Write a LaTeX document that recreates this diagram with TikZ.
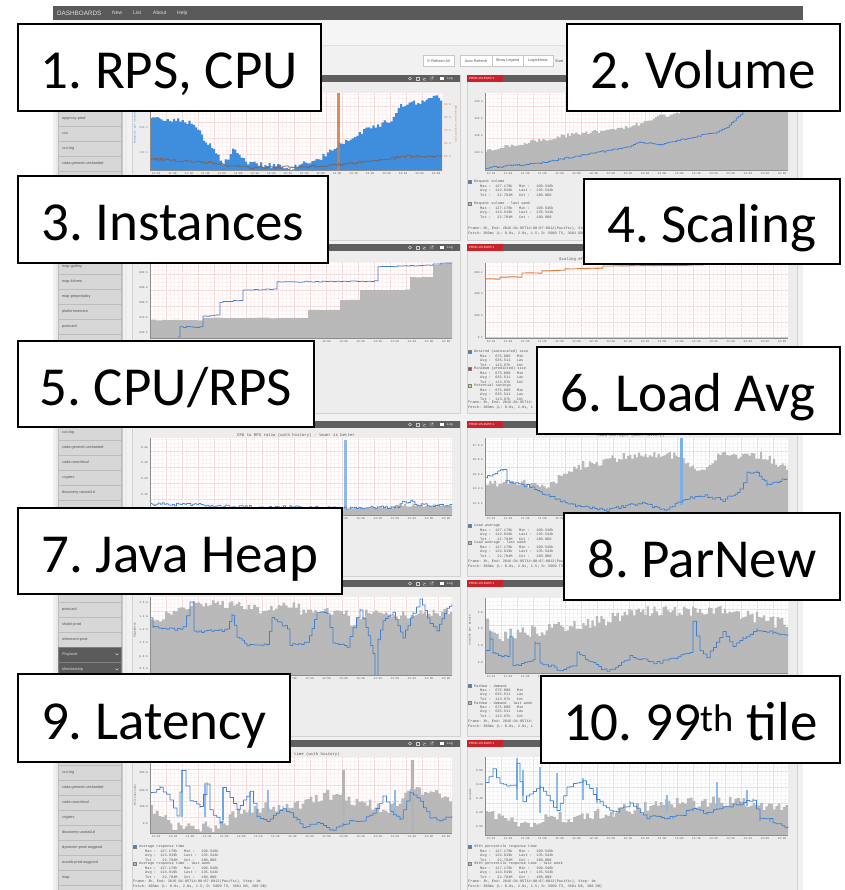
\documentclass[tikz,border=0pt]{standalone}
\usepackage{fontspec}
\setmainfont{Carlito}
\newfontfamily\uifont{Liberation Sans}
\newfontfamily\monofont{Liberation Mono}
\newfontfamily\symfont{DejaVu Sans}
\frenchspacing
\definecolor{pagebg}{HTML}{F1F1F1}
\definecolor{barbg}{HTML}{5A5A5A}
\definecolor{hdr}{HTML}{5F5F5F}
\definecolor{badge}{HTML}{C8232C}
\definecolor{panelbg}{HTML}{EDEDED}
\definecolor{panelline}{HTML}{D2D2D2}
\definecolor{sideitem}{HTML}{D7D7D7}
\definecolor{sideline}{HTML}{BDBDBD}
\definecolor{sidedark}{HTML}{5B5B5B}
\definecolor{gridminor}{HTML}{FCF1F1}
\definecolor{gridmajor}{HTML}{F4D6D6}
\definecolor{areagray}{HTML}{B4B4B4}
\definecolor{bluefill}{HTML}{3F8EDD}
\definecolor{blueline}{HTML}{3E80D2}
\definecolor{bluelight}{HTML}{8CBBEB}
\definecolor{orangeline}{HTML}{D47B3F}
\definecolor{brownline}{HTML}{806157}
\definecolor{limeline}{HTML}{C9E07A}
\definecolor{txtgray}{HTML}{555555}
\tikzset{
  labelbox/.style={draw=black, line width=1.6pt, fill=white, inner sep=0pt, anchor=north west,
    text height=43pt, text depth=0pt, font=\fontsize{55}{60}\selectfont},
  ticktxt/.style={font=\monofont\fontsize{2.8}{3}\selectfont, text=txtgray, inner sep=0pt},
  legtxt/.style={font=\monofont\fontsize{3.6}{4}\selectfont, text=txtgray, inner sep=0pt, anchor=west},
  titletxt/.style={font=\monofont\fontsize{4}{4}\selectfont, text=txtgray, inner sep=0pt},
  sidetxt/.style={font=\uifont\fontsize{3.8}{4}\selectfont, text=txtgray, inner sep=0pt, anchor=west},
  navtxt/.style={font=\uifont\fontsize{5}{6}\selectfont, text=white!88!black, inner sep=0pt, anchor=west},
  btn/.style={draw=black!22, fill=white, line width=0.4pt, font=\uifont\fontsize{3.8}{4}\selectfont,
    text=txtgray, inner sep=0pt, minimum height=11pt},
  gminor/.style={draw=gridminor, line width=0.3pt},
  gmajor/.style={draw=gridmajor, line width=0.35pt, densely dotted},
  axisln/.style={draw=black!45, line width=0.5pt},
  grayarea/.style={fill=areagray, fill opacity=0.92},
  blueln/.style={draw=blueline, line width=0.75pt, line join=round},
  brownln/.style={draw=brownline, line width=0.8pt, line join=round},
  orangeln/.style={draw=orangeline, line width=0.9pt, line join=round},
  iconln/.style={draw=white!80!black, line width=0.4pt},
}
\newcommand\plotframe[4]{%
  \fill[white] (#1,#2) rectangle (#3,#4);
  \pgfmathtruncatemacro\pfnx{(#3-#1)/4}%
  \pgfmathtruncatemacro\pfny{(#4-#2)/4}%
  \draw[gminor] \foreach \pfi in {0,...,\pfnx} {({#1+4*\pfi},#2) -- ({#1+4*\pfi},#4)};
  \draw[gminor] \foreach \pfi in {0,...,\pfny} {(#1,{#4-4*\pfi}) -- (#3,{#4-4*\pfi})};
  \pgfmathtruncatemacro\pfmx{(#3-#1)/16}%
  \pgfmathtruncatemacro\pfmy{(#4-#2)/16}%
  \draw[gmajor] \foreach \pfi in {0,...,\pfmx} {({#1+16*\pfi},#2) -- ({#1+16*\pfi},#4)};
  \draw[gmajor] \foreach \pfi in {0,...,\pfmy} {(#1,{#4-16*\pfi}) -- (#3,{#4-16*\pfi})};
}
\newcommand\plotaxes[4]{%
  \draw[axisln] (#1,#2) -- (#1,#4) -- (#3,#4);
  \pgfmathsetmacro\pxa{#1+6}%
  \pgfmathsetmacro\pxb{#3-6}%
  \pgfmathsetmacro\pyt{#4+3.5}%
  \foreach \ti in {0,...,17} {
    \pgfmathtruncatemacro\tmin{10+10*\ti}
    \pgfmathtruncatemacro\thr{11+int(\tmin/60)}
    \pgfmathtruncatemacro\tmm{mod(\tmin,60)}
    \pgfmathsetmacro\tx{\pxa+\ti*(\pxb-\pxa)/17}
    \node[ticktxt] at (\tx,\pyt) {\thr:\ifnum\tmm=0 00\else\tmm\fi};
  }%
}
\newcommand\ylab[3]{\node[ticktxt, anchor=east] at (#1,#2) {#3};}
\newcommand\areaseries[6]{%
  \fill[#1] (#4,#2) \foreach \sxa/\sya/\sxb/\syb/\sn in {#6} {
    -- plot[const plot, domain=\sxa:\sxb, samples=\sn] (\x,{\sya+(\syb-\sya)*(\x-\sxa)/(\sxb-\sxa)+#3*rand}) }
    -- (#5,#2) -- cycle;}
\newcommand\lineseries[5]{%
  \draw[#1] (#3,#4) \foreach \sxa/\sya/\sxb/\syb/\sn in {#5} {
    -- plot[const plot, domain=\sxa:\sxb, samples=\sn] (\x,{\sya+(\syb-\sya)*(\x-\sxa)/(\sxb-\sxa)+#2*rand}) };}
\newcommand\panel[4]{%
  \filldraw[fill=panelbg, draw=panelline, line width=0.4pt] (#1,#2) rectangle (#3,#4);
  \fill[hdr] (#1,#2) rectangle (#3,#2+7);
  \fill[badge] (#1,#2) rectangle (#1+36,#2+7);
}
\newcommand\badgetext[2]{%
  \node[font=\uifont\fontsize{3}{3}\selectfont, text=white, inner sep=0pt, anchor=west] at (#1+2,#2+3.5) {PROD-US-EAST-1};}
\newcommand\hdricons[2]{%
  \draw[iconln] (#1,#2+3.5) circle (1.5);
  \draw[iconln] (#1+6.5,#2+2) rectangle ++(3,3);
  \draw[iconln] (#1+13,#2+1.8) -- (#1+13,#2+5.2) -- (#1+16.4,#2+5.2) (#1+13.6,#2+4.6) -- (#1+14.6,#2+3) -- (#1+16,#2+3.6);
  \draw[iconln] (#1+20,#2+2) rectangle ++(3,3) (#1+21.5,#2+3.5) -- (#1+23.6,#2+1.4);
  \fill[white] (#1+30,#2+1.8) rectangle ++(3.6,3.6);
  \node[font=\uifont\fontsize{3.2}{3}\selectfont, text=white, inner sep=0pt, anchor=west] at (#1+37,#2+3.5) {Log};
}
\newcommand\legendblock[4]{%
  \filldraw[fill=#3, draw=black!50, line width=0.3pt] (#1,#2) rectangle ++(3.6,3.6);
  \node[legtxt] at (#1+6,#2+1.8) {#4};
  \node[legtxt] at (#1+12,#2+6.4) {Max~:~~127.178k~~~Min~:~~~109.546k};
  \node[legtxt] at (#1+12,#2+10.8) {Avg~:~~113.919k~~~Last~:~~135.544k};
  \node[legtxt] at (#1+12,#2+15.2) {Tot~:~~~22.784M~~~Cnt~:~~~180.000};
}
\newcommand\legendcut[4]{%
  \filldraw[fill=#3, draw=black!50, line width=0.3pt] (#1,#2) rectangle ++(3.6,3.6);
  \node[legtxt] at (#1+6,#2+1.8) {#4};
  \node[legtxt] at (#1+12,#2+6.4) {Max~:~~675.000~~~Min};
  \node[legtxt] at (#1+12,#2+10.8) {Avg~:~~635.511~~~Las};
  \node[legtxt] at (#1+12,#2+15.2) {Tot~:~~113.97k~~~Cnt};
}
\newcommand\frametext[2]{%
  \node[legtxt] at (#1,#2) {Frame:~3h,~End:~2016-04-05T14:00:07-0012(Pacific),~Step:~1m};
  \node[legtxt] at (#1,#2+5) {Fetch:~300ms~(L:~0.0s,~2.0s,~1.5;~D:~5000~TS,~3601~DB,~300~DB)};
}
\newcommand\framecut[2]{%
  \node[legtxt] at (#1,#2) {Frame:~3h,~End:~2016-04-05T14:};
  \node[legtxt] at (#1,#2+5) {Fetch:~300ms~(L:~0.0s,~2.0s,~1};
}
\newcommand\framemid[2]{%
  \node[legtxt] at (#1,#2) {Frame:~3h,~End:~2016-04-05T14:00:07-0012(Pac};
  \node[legtxt] at (#1,#2+5) {Fetch:~300ms~(L:~0.0s,~2.0s,~1.5;~D:~5000~TS};
}
\begin{document}
\begin{tikzpicture}[x=1pt,y=-1pt]
\pgfmathsetseed{11}
\useasboundingbox (0,0) rectangle (844,890);
\fill[white] (0,0) rectangle (844,890);
\fill[pagebg] (53,6) rectangle (803,890);
% top bar
\fill[barbg] (53,6) rectangle (803,20);
\node[navtxt, font=\uifont\fontsize{6.3}{7}\selectfont] (brand) at (57,13.2) {DASHBOARDS};
\node[navtxt] (nnew) at (112,13.2) {New};
\node[navtxt] (nlist) at (133,13.2) {List};
\node[navtxt] (nabout) at (153,13.2) {About};
\node[navtxt] (nhelp) at (177,13.2) {Help};
\fill[white!96!black] (53,20) rectangle (803,45);
\draw[black!12, line width=0.5pt] (53,45) -- (803,45);
% toolbar
\node[btn, minimum width=31pt] (brefresh) at (438.5,61) {{\symfont\fontsize{3.8}{4}\selectfont ↻}~Refresh All};
\node[btn, minimum width=32pt] (bauto) at (476,61) {Auto Refresh};
\node[btn, minimum width=31pt] (bshow) at (507.5,61) {Show Legend};
\node[btn, minimum width=30pt] (blog) at (538,61) {Logarithmic};
\node[font=\uifont\fontsize{3.8}{4}\selectfont, text=txtgray, inner sep=0pt, anchor=west] (bstart) at (555,61) {Start};
% sidebar
\fill[black!9] (56,96) rectangle (122,893);
\draw[black!22, line width=0.5pt] (122.5,96) -- (122.5,893);
\draw[black!8, line width=1.2pt] (126,96) -- (126,893);
\foreach \sy in {171, 244, 334, 410, 500, 587, 750, 885} {
  \filldraw[fill=sideitem, draw=sideline, line width=0.4pt] (58,\sy) rectangle (121,\sy+15);
}
\foreach \sy/\st in {111/apiproxy-prod, 126/ccs, 141/ccs-log, 156/coda-general-unsharded,
  259/map-gallery, 274/map-lolomo, 289/map-prepostplay, 304/platformservice, 319/postcard,
  425/ccs-log, 440/coda-general-unsharded, 455/coda-noncritical, 470/cryptex, 485/discovery-useast1d,
  602/postcard, 617/shakti-prod, 632/whereami-prod,
  765/ccs-log, 780/coda-general-unsharded, 795/coda-noncritical, 810/cryptex, 825/discovery-useast1d,
  840/dynecom-prod-asggood, 855/ecweb-prod-asggood, 870/map} {
  \filldraw[fill=sideitem, draw=sideline, line width=0.4pt] (58,\sy) rectangle (121,\sy+15);
  \node[sidetxt] at (62,\sy+7.5) {\st};
}
\foreach \sy/\st in {647/Playback, 662/Membership} {
  \filldraw[fill=sidedark, draw=black!50, line width=0.4pt] (58,\sy) rectangle (121,\sy+15);
  \node[sidetxt, text=white!85!black] at (62,\sy+7.5) {\st};
  \draw[iconln] (115.5,\sy+6.5) -- (117,\sy+8) -- (118.5,\sy+6.5);
}
% panels
\panel{132}{75}{460}{240}  \panel{467}{75}{797}{240}
\panel{132}{244}{460}{413} \panel{467}{244}{797}{413}
\panel{132}{421}{460}{576} \panel{467}{421}{797}{576}
\panel{132}{580}{460}{736} \panel{467}{580}{797}{736}
\panel{132}{740}{460}{893} \panel{467}{740}{797}{893}
\badgetext{467}{75} \badgetext{467}{244} \badgetext{467}{421} \badgetext{467}{580} \badgetext{467}{740}
\hdricons{410}{75} \hdricons{410}{244} \hdricons{410}{421} \hdricons{410}{580} \hdricons{410}{740}

% ---------- chart 1 left: RPS, CPU
\plotframe{150}{93}{442}{170}
\begin{scope}
\clip (150,93) rectangle (442,170);
\areaseries{bluefill}{170}{2.5}{150}{442}{150/118/175/120/13, 175/120/195/124/10, 195/126/205/142/6, 205/142/215/150/6,
  215/152/222/165/4, 222/165/232/150/5, 232/150/245/162/7, 245/163/290/168/22, 290/168/320/158/15, 320/158/345/140/12,
  345/140/370/128/12, 370/128/395/118/12, 395/112/400/105/3, 400/105/430/100/15, 430/100/438/95/4, 438/96/442/104/3}
\fill[orangeline, opacity=0.85] (337,93) rectangle (339.5,170);
\lineseries{brownln}{1.2}{150}{159}{150/159/200/162/25, 200/162/250/168/25, 250/168/330/166/40, 330/166/400/157/35, 400/156/442/157/21}
\end{scope}
\plotaxes{150}{93}{442}{170}
\node[ticktxt, text=bluefill, anchor=east] at (148,128) {200 k};
\node[ticktxt, text=bluefill, anchor=east] at (148,153) {100 k};
\node[ticktxt, text=bluefill, rotate=90] at (135,128) {Requests per second};
\foreach \oy/\ot in {105/90 \%, 118/80 \%, 131/70 \%, 144/60 \%, 157/50 \%} {\node[ticktxt, text=orangeline, anchor=west] at (444,\oy) {\ot};}
\node[ticktxt, text=orangeline, rotate=90] at (456,124) {utilization percentage};

% ---------- chart 1 right: volume
\plotframe{485}{93}{788}{170}
\begin{scope}
\clip (485,93) rectangle (788,170);
\areaseries{grayarea}{170}{2}{485}{788}{485/150/530/142/22, 530/142/573/134/22, 573/134/627/128/27, 627/128/657/117/15,
  657/117/680/112/12, 680/112/720/105/20, 720/105/788/97/34}
\lineseries{blueln}{0.8}{485}{168}{485/168/540/163/28, 540/163/583/155/22, 583/155/627/147/22, 627/147/640/142/7,
  640/142/660/145/10, 660/145/693/137/17, 693/137/717/132/12, 717/132/727/127/5, 727/127/743/112/8, 743/112/753/110/5, 753/110/788/104/18}
\end{scope}
\plotaxes{485}{93}{788}{170}
\ylab{483}{102}{130 k}\ylab{483}{119}{125 k}\ylab{483}{136}{120 k}\ylab{483}{153}{115 k}
\legendblock{468}{180}{blueline}{Request volume}
\legendblock{468}{202}{areagray}{Request volume - last week}
\frametext{468}{229}

% ---------- chart 2 left: instances
\plotframe{150}{262}{452}{338}
\begin{scope}
\clip (150,262) rectangle (452,338);
\areaseries{grayarea}{338}{0.3}{150}{452}{150/320/203/320/10, 203/318/308/318/20, 308/310/340/310/6, 340/300/360/300/4,
  360/290/410/290/10, 410/277/433/277/5, 433/265/452/262/4}
\lineseries{blueln}{0.4}{178}{337}{178/337/180/337/2, 180/327/203/327/8, 203/316/220/315/6, 220/302/243/300/8,
  243/290/277/289/10, 277/282/378/281/30, 378/267/433/265/18, 433/264/452/263/6}
\end{scope}
\plotaxes{150}{262}{452}{338}
\ylab{148}{272}{600 k}\ylab{148}{287}{590 k}\ylab{148}{302}{580 k}\ylab{148}{317}{570 k}\ylab{148}{332}{560 k}

% ---------- chart 2 right: scaling
\plotframe{485}{263}{788}{338}
\begin{scope}
\clip (485,263) rectangle (788,338);
\draw[limeline, line width=0.9pt] (485,337.3) -- (788,337.3);
\lineseries{orangeln}{0.15}{485}{279}{485/279/500/279/4, 500/277/522/277/6, 522/273/542/273/6, 542/271/565/270/6,
  565/269/603/268/10, 603/266/703/265/20, 703/264/788/264/15}
\end{scope}
\plotaxes{485}{263}{788}{338}
\ylab{483}{272}{600 k}\ylab{483}{293}{400 k}\ylab{483}{315}{200 k}\ylab{483}{337}{0 k}
\node[titletxt, anchor=west] at (559,259) {Scaling ef};
\legendcut{468}{350}{blueline}{Desired (autoscaled) size}
\legendcut{468}{367}{brownline!70!red}{Minimum (predicted) size}
\legendcut{468}{384}{limeline}{Potential savings}
\framecut{468}{403}

% ---------- chart 3 left: cpu / rps
\plotframe{150}{438}{452}{515}
\begin{scope}
\clip (150,438) rectangle (452,515);
\areaseries{grayarea}{515}{1.5}{150}{452}{150/511/250/511/50, 250/510/340/510/45, 340/509/400/507/30, 400/505/452/506/26}
\fill[bluelight] (344,440) rectangle (347,508);
\lineseries{blueln}{1.5}{150}{505}{150/504/205/505/28, 205/506/340/508/68, 340/508/400/507/30, 400/503/415/500/8, 415/505/452/505/19}
\end{scope}
\plotaxes{150}{438}{452}{515}
\ylab{148}{448}{0.40}\ylab{148}{463}{0.30}\ylab{148}{479}{0.20}\ylab{148}{495}{0.10}
\node[titletxt] at (296,435) {CPU to RPS ratio (with history) - lower is better};

% ---------- chart 3 right: load avg
\plotframe{485}{438}{788}{515}
\begin{scope}
\clip (485,438) rectangle (788,515);
\areaseries{grayarea}{515}{4}{485}{788}{485/482/550/485/30, 550/485/573/467/10, 573/467/627/456/25, 627/456/673/455/22,
  673/455/703/473/14, 703/473/717/455/6, 717/455/760/455/20, 760/455/788/470/14}
\fill[bluelight!80!blueline] (680,438) rectangle (682.5,505);
\lineseries{blueln}{1.5}{485}{478}{485/478/503/470/8, 503/470/507/482/2, 507/482/527/486/8, 527/486/550/497/10,
  550/497/573/505/10, 573/505/607/510/15, 607/510/640/503/15, 640/503/667/510/12, 667/510/678/502/5, 678/502/700/495/10,
  700/495/723/500/10, 723/500/740/490/8, 740/490/747/473/3, 747/473/757/472/4, 757/472/767/485/5, 767/485/787/478/9}
\end{scope}
\plotaxes{485}{438}{788}{515}
\ylab{483}{445}{17.0 k}\ylab{483}{459}{16.0 k}\ylab{483}{474}{15.0 k}\ylab{483}{488}{14.0 k}\ylab{483}{503}{13.0 k}
\node[titletxt] at (631,435) {Load Averages (with history)};
\legendblock{468}{524}{blueline}{Load average}
\legendblock{468}{541}{areagray}{Load average - last week}
\framemid{468}{562}

% ---------- chart 4 left: java heap
\plotframe{150}{597}{452}{675}
\begin{scope}
\clip (150,597) rectangle (452,675);
\areaseries{grayarea}{675}{4}{150}{452}{150/622/165/620/6, 165/612/200/603/15, 200/603/250/606/22, 250/606/265/612/6,
  265/609/300/604/15, 300/612/350/612/22, 350/625/365/615/6, 365/612/400/618/15, 400/615/452/612/25}
\lineseries{blueln}{1.2}{150}{618}{150/618/153/627/2, 153/627/183/630/12, 183/628/190/602/3, 190/602/194/602/2,
  194/632/227/630/14, 227/630/232/615/3, 232/615/237/637/3, 237/637/247/645/5, 247/645/267/645/8, 267/645/272/618/3,
  272/618/290/630/8, 290/645/307/643/7, 307/643/317/613/5, 317/613/327/613/4, 327/613/333/643/3, 333/643/347/647/6,
  347/647/353/627/3, 353/627/360/610/3, 360/610/366/628/3, 366/628/373/653/4, 373/653/375/675/2, 375/675/378/640/2,
  378/640/383/620/3, 383/620/393/613/5, 393/613/403/637/5, 403/637/413/613/5, 413/613/420/600/3, 420/600/430/623/5,
  430/623/437/630/3, 437/630/447/607/5, 447/607/452/604/3}
\end{scope}
\plotaxes{150}{597}{452}{675}
\ylab{148}{603}{1.6 G}\ylab{148}{617}{1.4 G}\ylab{148}{630}{1.2 G}\ylab{148}{643}{1.0 G}\ylab{148}{657}{0.8 G}\ylab{148}{669}{0.6 G}
\node[ticktxt, rotate=90] at (135,630) {GigaBytes};

% ---------- chart 4 right: parnew
\plotframe{485}{598}{788}{673}
\begin{scope}
\clip (485,598) rectangle (788,673);
\areaseries{grayarea}{673}{6}{485}{788}{485/615/493/637/3, 493/637/507/637/6, 507/635/553/628/20, 553/628/607/620/25,
  607/620/633/610/12, 633/610/733/610/45, 733/612/788/625/25}
\lineseries{blueln}{1.5}{485}{650}{485/650/490/630/2, 490/640/493/653/2, 493/653/507/657/6, 507/657/510/637/2,
  510/637/513/667/2, 513/667/533/660/8, 533/660/535/643/2, 535/643/540/663/2, 540/663/557/668/7, 557/670/573/667/6,
  573/667/577/653/2, 577/653/607/672/12, 607/672/630/657/9, 630/657/657/663/10, 657/663/690/653/12, 690/653/693/622/2,
  693/622/700/650/3, 700/650/707/657/3, 707/657/723/633/6, 723/633/733/647/4, 733/647/743/637/4, 743/637/757/630/5,
  757/630/773/633/6, 773/633/788/637/6}
\end{scope}
\plotaxes{485}{598}{788}{673}
\ylab{483}{613}{3.0}\ylab{483}{629}{2.0}\ylab{483}{646}{1.0}\ylab{483}{663}{0.0}
\node[ticktxt, rotate=90] at (470,630) {seconds per minute};
\legendcut{468}{684}{blueline}{ParNew - demand}
\legendcut{468}{701}{areagray}{ParNew - demand - last week}
\framecut{468}{722}

% ---------- chart 5 left: latency
\plotframe{150}{757}{452}{833}
\begin{scope}
\clip (150,757) rectangle (452,833);
\areaseries{grayarea}{833}{6}{150}{452}{150/805/170/826/8, 170/826/217/826/20, 217/826/243/808/10, 243/808/283/807/16,
  283/807/323/797/16, 323/797/345/790/8, 345/800/390/808/18, 390/808/410/785/8, 410/785/452/800/16}
\fill[areagray] (342,770) rectangle (345,833);
\fill[areagray] (411,760) rectangle (414,833);
\foreach \bx/\bt/\bb in {182/770/817, 205/783/817, 223/787/820, 250/792/817, 268/790/812, 395/790/815} {
  \fill[bluelight] (\bx-1,\bt) rectangle (\bx+1,\bb);}
\lineseries{blueln}{1.5}{150}{793}{150/793/160/787/4, 160/787/170/800/4, 170/800/177/817/3, 177/817/180/793/2,
  180/793/182/770/2, 182/770/190/800/3, 190/800/200/807/4, 200/807/207/783/3, 207/783/210/810/2, 210/810/220/823/4,
  220/823/223/787/2, 223/787/237/810/5, 237/810/250/792/5, 250/792/257/817/3, 257/817/267/820/4, 267/820/283/808/6,
  283/808/297/820/5, 297/820/303/827/3, 303/827/317/823/5, 317/823/333/830/6, 333/830/343/823/4, 343/823/363/820/7,
  363/820/373/813/4, 373/813/383/797/4, 383/797/390/810/3, 390/810/400/820/4, 400/820/410/793/4, 410/793/417/797/3,
  417/797/430/817/5, 430/817/440/820/4, 440/820/452/815/5}
\end{scope}
\plotaxes{150}{757}{452}{833}
\ylab{148}{773}{300.0}\ylab{148}{791}{200.0}\ylab{148}{807}{100.0}\ylab{148}{824}{0.0}
\node[ticktxt, rotate=90] at (135,795) {Milliseconds};
\node[titletxt, anchor=east] at (340,754) {time (with history)};
\legendblock{133}{845}{blueline}{Average response time}
\legendblock{133}{862}{areagray}{Average response time - last week}
\frametext{133}{882}

% ---------- chart 5 right: 99th
\plotframe{485}{757}{788}{835}
\begin{scope}
\clip (485,757) rectangle (788,835);
\areaseries{grayarea}{835}{6}{485}{788}{485/813/507/820/8, 507/820/517/827/4, 517/827/533/820/6, 533/820/573/816/15,
  573/816/623/810/20, 623/810/673/803/20, 673/803/740/802/25, 740/800/788/810/20}
\foreach \bx/\bt/\bb in {517/758/800, 523/770/796, 540/767/813, 557/773/808, 583/778/800, 597/787/803, 667/795/812, 717/782/810, 747/790/806} {
  \fill[bluelight] (\bx-1,\bt) rectangle (\bx+1,\bb);}
\lineseries{blueln}{2}{485}{783}{485/783/493/770/3, 493/770/500/783/3, 500/783/517/788/6, 517/763/523/800/3,
  523/800/540/787/6, 540/787/557/810/6, 557/810/567/787/4, 567/787/583/780/6, 583/780/600/803/6, 600/803/613/813/5,
  613/813/630/803/6, 630/803/647/817/6, 647/817/673/817/10, 673/817/693/810/7, 693/810/707/813/5, 707/813/723/807/6,
  723/807/740/803/6, 740/803/753/800/5, 753/800/760/820/3, 760/820/770/820/4, 770/820/788/827/7}
\end{scope}
\plotaxes{485}{757}{788}{835}
\ylab{483}{771}{0.80}\ylab{483}{785}{0.60}\ylab{483}{799}{0.40}\ylab{483}{813}{0.20}\ylab{483}{827}{0.00}
\node[ticktxt, rotate=90] at (470,795) {seconds};
\legendblock{468}{845}{blueline}{99th percentile response time}
\legendblock{468}{862}{areagray}{99th percentile response time - last week}
\frametext{468}{882}

% ---------- label boxes
\node[labelbox, minimum width=303pt, minimum height=87pt] (l1) at (17,23) {1. RPS, CPU};
\node[labelbox, minimum width=273pt, minimum height=87pt] (l2) at (566,23) {2. Volume};
\node[labelbox, minimum width=310pt, minimum height=87pt] (l3) at (17,175) {3. Instances};
\node[labelbox, minimum width=256pt, minimum height=85pt] (l4) at (583,178) {4. Scaling};
\node[labelbox, minimum width=296pt, minimum height=86pt] (l5) at (17,340) {5. CPU/RPS};
\node[labelbox, minimum width=303pt, minimum height=87pt] (l6) at (536,346) {6. Load Avg};
\node[labelbox, minimum width=324pt, minimum height=86pt] (l7) at (17,507) {7. Java Heap};
\node[labelbox, minimum width=276pt, minimum height=87pt] (l8) at (563,512) {8. ParNew};
\node[labelbox, minimum width=272pt, minimum height=88pt] (l9) at (17,673) {9. Latency};
\node[labelbox, minimum width=299pt, minimum height=87pt] (l10) at (540,675) {10. 99\textsuperscript{th} tile};
\end{tikzpicture}
\end{document}
